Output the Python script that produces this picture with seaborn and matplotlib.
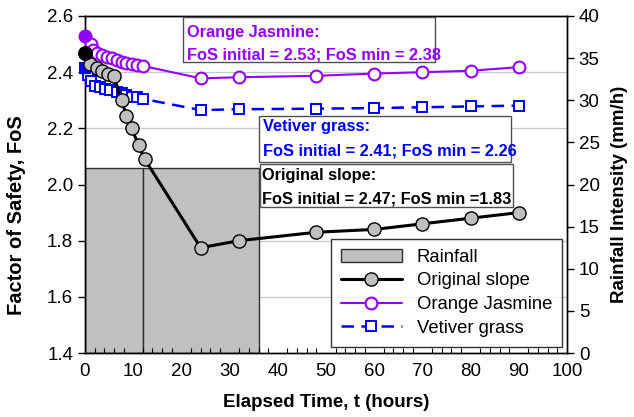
import numpy as np
import pandas as pd
import matplotlib
matplotlib.use("Agg")
import matplotlib.pyplot as plt
import seaborn as sns
from matplotlib.patches import Rectangle, Patch
from matplotlib.ticker import MultipleLocator, FixedLocator

# ---------------- data ----------------
rain_start = [0, 12]
rain_width = [12, 24]
rain_intensity = [22, 22]

t_orig = [0, 1.0, 2.4, 3.6, 4.8, 6.0, 7.6, 8.6, 9.7, 11.1, 12.4, 24, 32, 48, 60, 70, 80, 90]
fos_orig = [2.47, 2.43, 2.415, 2.405, 2.395, 2.385, 2.30, 2.245, 2.20, 2.14, 2.09,
            1.775, 1.80, 1.83, 1.84, 1.86, 1.88, 1.90]

t_oj = [0, 1.2, 1.7, 2.4, 3.5, 4.5, 5.5, 6.6, 7.6, 8.6, 9.7, 10.7, 12.1, 24, 32, 48, 60, 70, 80, 90]
fos_oj = [2.53, 2.50, 2.48, 2.467, 2.461, 2.455, 2.449, 2.443, 2.437, 2.431, 2.428, 2.425, 2.422,
          2.378, 2.382, 2.387, 2.395, 2.400, 2.405, 2.418]

t_vg = [0, 0.7, 1.2, 2.1, 3.1, 4.1, 5.2, 6.6, 7.6, 8.6, 9.7, 10.7, 12, 24, 32, 48, 60, 70, 80, 90]
fos_vg = [2.414, 2.39, 2.37, 2.35, 2.346, 2.341, 2.337, 2.33, 2.325, 2.319, 2.313, 2.31, 2.305,
          2.265, 2.268, 2.270, 2.272, 2.275, 2.278, 2.281]

fos_ticks = [1.4, 1.6, 1.8, 2.0, 2.2, 2.4, 2.6]
rain_ticks = [0, 5, 10, 15, 20, 25, 30, 35, 40]
x_ticks = [0, 10, 20, 30, 40, 50, 60, 70, 80, 90, 100]

# ---------------- style ----------------
sns.set_theme(style="white")
plt.rcParams["font.family"] = ["Liberation Sans", "DejaVu Sans"]
for k in ("text.color", "axes.labelcolor", "xtick.color", "ytick.color"):
    plt.rcParams[k] = "black"

PURPLE = "#9400FF"
BLUE = "#0000FF"
GRAY = "#BFBFBF"

fig = plt.figure(figsize=(6.34, 4.17), dpi=100)
ax = fig.add_axes([85 / 634, 1 - 353 / 417, 482 / 634, 337 / 417])
ax2 = ax.twinx()

# FoS axis on top of rainfall axis
ax.set_zorder(2)
ax2.set_zorder(1)
ax.patch.set_visible(False)
ax2.patch.set_visible(True)
ax2.patch.set_facecolor("white")

# ---------------- rainfall (right axis) ----------------
rain_df = pd.DataFrame({"start": rain_start, "width": rain_width, "intensity": rain_intensity})
bars = ax2.bar(rain_df["start"], rain_df["intensity"], width=rain_df["width"], align="edge",
               color="#C0C0C0", edgecolor="#303030", linewidth=1.0, zorder=2)
ax2.set_ylim(0, 40)
ax2.set_yticks(rain_ticks)
ax2.set_axisbelow(True)

# grid (drawn on the rainfall axis so the bar covers it)
ax.set_xlim(0, 100)
ax.set_xticks(x_ticks)
ax.xaxis.set_minor_locator(MultipleLocator(2))
rain_equiv = [(f - fos_ticks[0]) / (fos_ticks[-1] - fos_ticks[0]) * 40 for f in fos_ticks]
ax2.yaxis.set_minor_locator(FixedLocator(rain_equiv))
ax2.grid(which="both", axis="x", color="#C8C8C8", linewidth=0.9)
ax2.grid(which="minor", axis="y", color="#C8C8C8", linewidth=0.9)
ax2.tick_params(axis="y", which="minor", length=0)

# ---------------- FoS lines (left axis) ----------------
df_o = pd.DataFrame({"t": t_orig, "fos": fos_orig})
df_j = pd.DataFrame({"t": t_oj, "fos": fos_oj})
df_v = pd.DataFrame({"t": t_vg, "fos": fos_vg})

sns.lineplot(data=df_j, x="t", y="fos", ax=ax, color=PURPLE, linewidth=1.5, marker="o",
             markersize=8.5, markerfacecolor="white", markeredgecolor=PURPLE, markeredgewidth=1.5,
             label="Orange Jasmine", zorder=4, clip_on=False)
sns.lineplot(data=df_v, x="t", y="fos", ax=ax, color=BLUE, linewidth=1.8, linestyle=(0, (5, 3)),
             marker="s", markersize=7, markerfacecolor="white", markeredgecolor=BLUE,
             markeredgewidth=1.4, label="Vetiver grass", zorder=4, clip_on=False)
sns.lineplot(data=df_o, x="t", y="fos", ax=ax, color="black", linewidth=2.2, marker="o",
             markersize=9.5, markerfacecolor=GRAY, markeredgecolor="black", markeredgewidth=1.0,
             label="Original slope", zorder=5, clip_on=False)
# initial points appear filled
ax.plot(df_j["t"][:1], df_j["fos"][:1], "o", color=PURPLE, markersize=8.5, zorder=4, clip_on=False)
ax.plot(df_v["t"][:1], df_v["fos"][:1], "s", color=BLUE, markersize=7, zorder=4, clip_on=False)
ax.plot(df_o["t"][:1], df_o["fos"][:1], "o", color="black", markersize=9.5, zorder=5, clip_on=False)

ax.set_ylim(1.4, 2.6)
ax.set_yticks(fos_ticks)
ax.set_yticklabels([f"{v:.1f}" for v in fos_ticks])
ax.set_xticklabels([str(v) for v in x_ticks])
ax.grid(False)

# ticks
ax.tick_params(axis="x", which="major", direction="inout", length=7, width=1, color="black",
               labelsize=13.5, pad=4)
ax.tick_params(axis="x", which="minor", direction="in", length=3.5, width=0.8, color="black",
               bottom=True)
ax.tick_params(axis="y", which="major", direction="out", length=5, width=1, color="black",
               labelsize=13.5, left=True)
ax2.tick_params(axis="y", which="major", direction="out", length=5, width=1, color="black",
                labelsize=13.5, right=True)

for a in (ax, ax2):
    for s in a.spines.values():
        s.set_color("black")
        s.set_linewidth(1.0)

ax.set_xlabel("Elapsed Time, t (hours)", fontsize=13.5, fontweight="bold")
ax.xaxis.set_label_coords(0.5, -0.122)
ax.set_ylabel("Factor of Safety, FoS", fontsize=14.5, fontweight="bold")
ax.yaxis.set_label_coords(-0.122, 0.41)
ax2.set_ylabel("Rainfall Intensity (mm/h)", fontsize=13.5, fontweight="bold")
ax2.yaxis.set_label_coords(1.091, 0.47)

# ---------------- legend ----------------
h, l = ax.get_legend_handles_labels()
hd = dict(zip(l, h))
rain_handle = Patch(facecolor="#C0C0C0", edgecolor="#303030", linewidth=1.0)
leg = ax.legend([rain_handle, hd["Original slope"], hd["Orange Jasmine"], hd["Vetiver grass"]],
                ["Rainfall", "Original slope", "Orange Jasmine", "Vetiver grass"],
                loc="lower right", bbox_to_anchor=(0.99, 0.018), borderaxespad=0,
                fontsize=13.3, frameon=True, fancybox=False, handlelength=3.3,
                handletextpad=0.8, labelspacing=0.36, borderpad=0.55)
leg.get_frame().set_edgecolor("black")
leg.get_frame().set_linewidth(1.0)
leg.set_zorder(10)

# ---------------- annotation boxes ----------------
def note_box(x0, y0, x1, y1, title, body, color, tx, ty1, ty2):
    ax.add_patch(Rectangle((x0, y0), x1 - x0, y1 - y0, transform=ax.transAxes,
                           facecolor="white", edgecolor="#505050", linewidth=1.0, zorder=7))
    ax.text(tx, ty1, title, transform=ax.transAxes, color=color, fontsize=11.8,
            fontweight="bold", va="center", ha="left", zorder=8)
    ax.text(tx, ty2, body, transform=ax.transAxes, color=color, fontsize=11.8,
            fontweight="bold", va="center", ha="left", zorder=8)

note_box(0.203, 0.864, 0.726, 0.997, "Orange Jasmine:",
         "FoS initial = 2.53; FoS min = 2.38", PURPLE, 0.212, 0.950, 0.885)
note_box(0.361, 0.567, 0.884, 0.703, "Vetiver grass:",
         "FoS initial = 2.41; FoS min = 2.26", BLUE, 0.370, 0.671, 0.599)
note_box(0.363, 0.433, 0.888, 0.561, "Original slope:",
         "FoS initial = 2.47; FoS min =1.83", "black", 0.368, 0.526, 0.457)

fig.savefig("out.png", dpi=100)
